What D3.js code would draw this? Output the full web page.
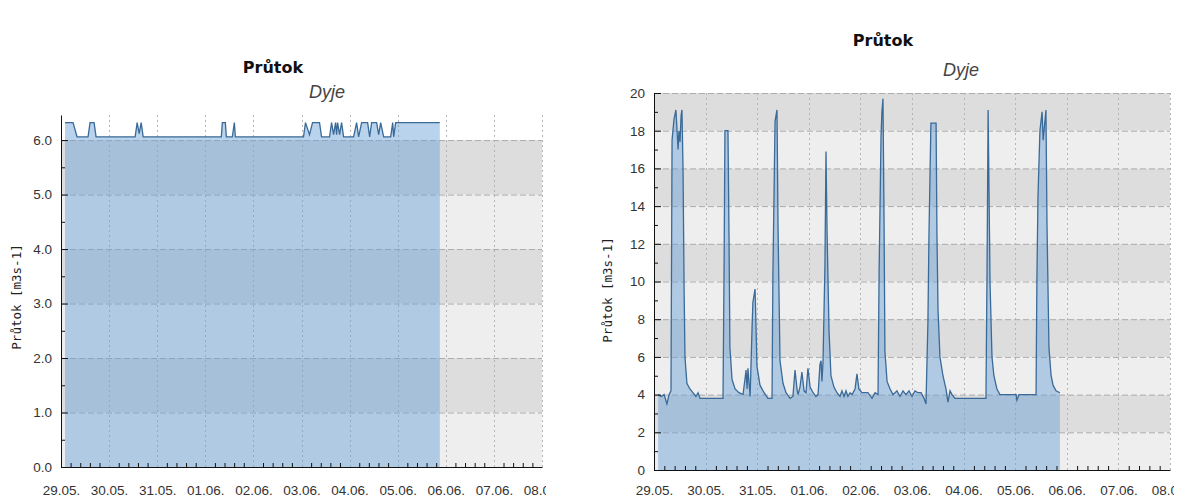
<!DOCTYPE html>
<html>
<head>
<meta charset="utf-8">
<script src="https://cdn.jsdelivr.net/npm/d3@7"></script>
<style>
  body { margin: 0; background: #fff; }
  svg { display: block; }
</style>
</head>
<body>
<svg id="chart" width="1179" height="497"></svg>
<script>
// --- data (hours since 29.05. 00:00, flow m3/s) ---
const dayLabels = ["29.05.", "30.05.", "31.05.", "01.06.", "02.06.", "03.06.", "04.06.", "05.06.", "06.06.", "07.06.", "08.06."];

const leftYTicks = [0, 1, 2, 3, 4, 5, 6];
const rightYTicks = [0, 2, 4, 6, 8, 10, 12, 14, 16, 18, 20];

const leftSeries = [
  [2, 6.32], [6, 6.32], [8, 6.06], [13.5, 6.06], [14.5, 6.32], [16.5, 6.32], [17.5, 6.06],
  [37, 6.06], [38, 6.32], [39, 6.12], [40, 6.32], [41, 6.06],
  [80, 6.06], [80.5, 6.32], [82, 6.32], [82.5, 6.06], [85.5, 6.06], [86.5, 6.32], [87, 6.06],
  [121, 6.06], [122, 6.32], [124, 6.10], [125.5, 6.32], [129, 6.32], [130, 6.06],
  [134, 6.06], [135, 6.32], [136, 6.10], [137, 6.32], [137.5, 6.10], [138, 6.32], [139, 6.10], [140, 6.32], [141, 6.06],
  [146, 6.06], [147.5, 6.32], [148.5, 6.06], [150, 6.32], [153, 6.32], [154, 6.06], [155, 6.32], [157.5, 6.32],
  [158.5, 6.10], [159.5, 6.32], [161, 6.06], [164.5, 6.06], [165.5, 6.32], [166, 6.06], [167, 6.32], [189, 6.32]
];

const rightSeries = [
  [1.9, 4.0], [3.3, 3.9], [4.7, 4.0], [6.0, 3.5], [7.0, 4.0], [7.9, 4.2], [8.4, 17.5], [9.3, 18.6], [10.2, 19.1],
  [11.2, 17.0], [11.6, 18.0], [12.1, 17.4], [12.6, 18.8], [13.0, 19.1], [13.5, 16.0], [14.0, 9.6], [14.4, 6.0],
  [15.3, 4.6], [16.7, 4.3], [18.1, 4.1], [19.5, 3.9], [20.5, 4.1], [21.4, 3.8], [32.1, 3.8], [32.6, 10.8],
  [33.0, 18.0], [34.4, 18.0], [34.9, 12.3], [35.3, 6.5], [36.3, 4.8], [37.7, 4.3], [39.5, 4.1], [41.4, 4.0],
  [42.3, 4.8], [42.8, 5.3], [43.3, 4.3], [43.7, 5.4], [44.7, 3.9], [45.6, 7.5], [46.0, 8.9], [47.0, 9.6],
  [47.9, 5.5], [49.3, 4.5], [51.2, 4.1], [53.0, 3.8], [54.9, 3.8], [55.3, 10.3], [56.3, 18.5], [57.2, 19.1],
  [57.7, 12.8], [58.6, 5.8], [60.0, 4.6], [61.4, 4.1], [63.3, 3.8], [64.6, 3.9], [65.6, 5.3], [66.5, 4.3],
  [67.0, 4.0], [67.9, 4.4], [68.8, 5.2], [69.8, 4.2], [70.7, 4.1], [71.6, 5.4], [72.6, 4.4], [74.0, 4.1],
  [75.3, 3.9], [76.3, 4.0], [77.2, 5.6], [77.7, 5.8], [78.1, 4.7], [78.6, 5.7], [79.5, 10.8], [80.0, 16.9],
  [80.5, 12.6], [81.4, 7.4], [82.3, 5.0], [83.7, 4.4], [85.1, 4.1], [86.5, 3.9], [87.4, 4.2], [88.4, 3.9],
  [89.3, 4.2], [90.2, 3.9], [91.2, 4.1], [92.1, 4.0], [93.5, 4.3], [94.4, 5.1], [95.3, 4.3], [96.7, 4.1],
  [99.5, 4.1], [101.4, 3.8], [102.8, 4.1], [104.2, 4.0], [104.7, 10.5], [105.6, 17.7], [106.0, 19.0],
  [106.5, 19.7], [107.0, 13.2], [107.4, 6.3], [108.4, 4.7], [109.8, 4.3], [111.2, 4.0], [113.0, 4.2],
  [114.4, 3.9], [115.8, 4.2], [117.2, 4.0], [118.6, 4.2], [120.0, 3.9], [121.4, 4.2], [122.8, 4.1],
  [124.2, 4.1], [125.6, 3.8], [126.5, 3.5], [127.4, 7.8], [127.9, 12.5], [128.8, 18.4], [131.2, 18.4],
  [131.6, 12.5], [132.1, 8.5], [133.0, 6.0], [134.4, 5.0], [135.8, 4.3], [136.7, 3.6], [137.7, 4.2],
  [138.6, 4.0], [140.0, 3.8], [154.4, 3.8], [154.9, 10.5], [155.4, 19.1], [156.3, 9.9], [157.2, 6.0],
  [158.1, 5.0], [159.5, 4.3], [160.9, 4.0], [168.4, 4.0], [168.8, 3.7], [169.8, 4.0], [177.7, 4.0],
  [178.1, 10.2], [178.6, 14.5], [179.5, 18.0], [180.5, 19.0], [181.0, 17.5], [181.4, 18.0], [182.3, 19.1],
  [182.8, 12.9], [183.7, 6.5], [184.7, 5.0], [185.6, 4.5], [187.0, 4.2], [188.8, 4.1]
];

(function () {

  var svg = d3.select('#chart');
  var t0 = Date.UTC(2023, 4, 29);
  var toDate = function (h) { return new Date(t0 + h * 3600000); };

  function drawChart(o) {
    var g = svg.append('g');
    var days = dayLabels.map(function (d, i) { return toDate(i * 24); });

    var x = d3.scaleUtc().domain([days[0], days[days.length - 1]]).range([o.x0, o.x1]);
    var y = d3.scaleLinear().domain([0, o.yMax]).range([o.y0, o.y1]);

    // alternating grey bands between the y ticks
    g.append('g').selectAll('rect')
      .data(o.yTicks.slice(0, -1))
      .enter().append('rect')
      .attr('x', o.x0)
      .attr('width', o.x1 - o.x0)
      .attr('y', function (d, i) { return y(o.yTicks[i + 1]); })
      .attr('height', function (d, i) { return y(d) - y(o.yTicks[i + 1]); })
      .attr('fill', function (d, i) { return i % 2 ? '#dddddd' : '#eeeeee'; });

    // grid
    g.append('g').selectAll('line')
      .data(o.yTicks.slice(1))
      .enter().append('line')
      .attr('x1', o.x0).attr('x2', o.x1)
      .attr('y1', function (d) { return y(d) + 0.5; })
      .attr('y2', function (d) { return y(d) + 0.5; })
      .attr('stroke', '#acacac')
      .attr('stroke-dasharray', '6,3');

    g.append('g').selectAll('line')
      .data(days.slice(1))
      .enter().append('line')
      .attr('x1', function (d) { return Math.round(x(d)) + 0.5; })
      .attr('x2', function (d) { return Math.round(x(d)) + 0.5; })
      .attr('y1', o.y0).attr('y2', o.y1)
      .attr('stroke', '#b4b4b4')
      .attr('stroke-dasharray', '2,3');

    // series
    var area = d3.area()
      .x(function (d) { return x(toDate(d[0])); })
      .y0(y(0))
      .y1(function (d) { return y(d[1]); });
    var line = d3.line()
      .x(function (d) { return x(toDate(d[0])); })
      .y(function (d) { return y(d[1]); });

    g.append('path').datum(o.data)
      .attr('d', area)
      .attr('fill', 'rgba(105,160,215,0.46)');
    g.append('path').datum(o.data)
      .attr('d', line)
      .attr('fill', 'none')
      .attr('stroke', '#3a6a98')
      .attr('stroke-width', 1.3);

    // y axis (ticks point inwards)
    var minorY = [];
    for (var i = 0; i < o.yTicks.length - 1; i++) minorY.push((o.yTicks[i] + o.yTicks[i + 1]) / 2);

    var ya = g.append('g').attr('transform', 'translate(' + o.x0 + ',0)')
      .call(d3.axisLeft(y).tickValues(o.yTicks).tickSize(-7).tickSizeOuter(0).tickPadding(9).tickFormat(o.fmt));
    g.append('g').attr('transform', 'translate(' + o.x0 + ',0)')
      .call(d3.axisLeft(y).tickValues(minorY).tickSize(-4).tickSizeOuter(0).tickFormat(''))
      .select('.domain').remove();

    // x axis
    var minorX = [];
    days.slice(0, -1).forEach(function (d) {
      for (var k = 1; k < 5; k++) minorX.push(new Date(+d + k * 4.8 * 3600000));
    });

    var clipId = 'clip' + o.x0;
    svg.append('clipPath').attr('id', clipId)
      .append('rect').attr('x', 0).attr('y', 0).attr('width', o.x1 + 4).attr('height', 497);

    var xa = g.append('g').attr('clip-path', 'url(#' + clipId + ')')
      .attr('transform', 'translate(0,' + o.y0 + ')')
      .call(d3.axisBottom(x).tickValues(days).tickSize(-7).tickSizeOuter(0).tickPadding(o.xPad)
        .tickFormat(function (d, i) { return dayLabels[i]; }));
    g.append('g')
      .attr('transform', 'translate(0,' + o.y0 + ')')
      .call(d3.axisBottom(x).tickValues(minorX).tickSize(-4).tickSizeOuter(0).tickFormat(''))
      .select('.domain').remove();

    g.selectAll('.tick line, .domain').attr('stroke', '#111');
    [ya, xa].forEach(function (a) {
      a.attr('font-family', '"Liberation Sans", Arial, sans-serif')
        .attr('font-size', 13.5)
        .selectAll('text').attr('fill', '#333');
    });

    // titles
    g.append('text')
      .attr('x', o.titleX).attr('y', o.titleY)
      .attr('text-anchor', 'middle')
      .attr('font-family', '"DejaVu Sans", sans-serif')
      .attr('font-weight', 'bold')
      .attr('font-size', 16)
      .attr('fill', '#111')
      .text('Průtok');

    g.append('text')
      .attr('x', o.subX).attr('y', o.subY)
      .attr('text-anchor', 'middle')
      .attr('font-family', '"Liberation Sans", Arial, sans-serif')
      .attr('font-style', 'italic')
      .attr('font-size', 18)
      .attr('fill', '#444')
      .text('Dyje');

    g.append('text')
      .attr('transform', 'translate(' + o.labX + ',' + o.labY + ') rotate(-90)')
      .attr('text-anchor', 'middle')
      .attr('font-family', '"DejaVu Sans Mono", monospace')
      .attr('font-size', 12.5)
      .attr('fill', '#222')
      .text('Průtok [m3s-1]');
  }

  drawChart({
    data: leftSeries, yTicks: leftYTicks, yMax: 6.46, fmt: d3.format('.1f'),
    x0: 61, x1: 542, y0: 467, y1: 115, xPad: 18,
    titleX: 273, titleY: 73, subX: 327, subY: 98, labX: 21, labY: 297
  });

  drawChart({
    data: rightSeries, yTicks: rightYTicks, yMax: 20, fmt: d3.format('d'),
    x0: 654, x1: 1170, y0: 470, y1: 93, xPad: 15,
    titleX: 883, titleY: 46, subX: 961, subY: 76, labX: 612, labY: 290
  });

})();
</script>
</body>
</html>
